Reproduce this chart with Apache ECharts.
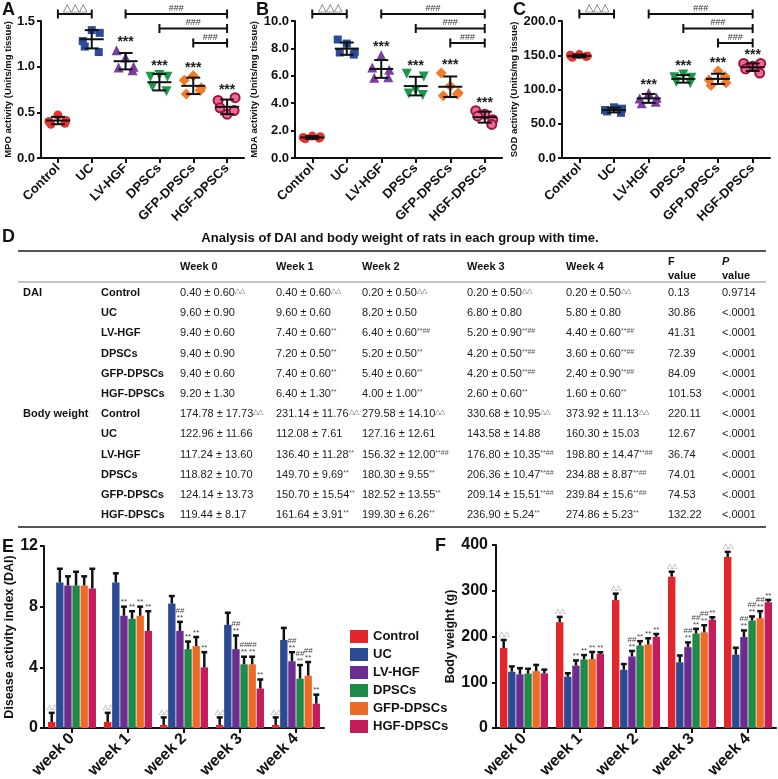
<!DOCTYPE html>
<html lang="en">
<head>
<meta charset="UTF-8">
<title>HGF-DPSCs in colitis rats</title>
<style>
  body { margin: 0; background: #fff; }
  #chart { width: 778px; height: 779px; }
</style>
</head>
<body>
<div id="chart"></div>
<script src="https://cdn.jsdelivr.net/npm/echarts@6/dist/echarts.min.js"></script>
<script>
const groups = ['Control', 'UC', 'LV-HGF', 'DPSCs', 'GFP-DPSCs', 'HGF-DPSCs'];
const weeks = ['week 0', 'week 1', 'week 2', 'week 3', 'week 4'];
const weekHeads = ['Week 0', 'Week 1', 'Week 2', 'Week 3', 'Week 4'];

// A-C, five rats per group
const mpoPts = [
  [0.40, 0.41, 0.47, 0.37, 0.38],
  [1.28, 1.37, 1.40, 1.22, 1.16],
  [1.18, 1.00, 1.10, 0.99, 0.96],
  [0.89, 0.89, 0.91, 0.78, 0.73],
  [0.85, 0.77, 0.90, 0.70, 0.74],
  [0.63, 0.66, 0.48, 0.55, 0.52]
];
const mpoMean = [0.41, 1.30, 1.06, 0.83, 0.79, 0.56];
const mpoSd = [0.04, 0.10, 0.09, 0.09, 0.09, 0.08];

const mdaPts = [
  [1.50, 1.55, 1.60, 1.40, 1.45],
  [8.65, 7.75, 8.35, 7.70, 7.55],
  [6.60, 6.45, 7.50, 5.85, 5.90],
  [6.15, 5.95, 4.95, 4.70, 4.60],
  [6.20, 4.75, 5.25, 4.55, 4.65],
  [3.45, 2.80, 3.20, 3.05, 2.45]
];
const mdaMean = [1.50, 7.98, 6.50, 5.25, 5.20, 2.98];
const mdaSd = [0.10, 0.45, 0.65, 0.68, 0.75, 0.40];

const sodPts = [
  [150, 149, 151, 147, 148],
  [70, 72, 74, 68, 66],
  [87, 88, 95, 80, 82],
  [118, 117, 122, 111, 109],
  [114, 110, 127, 106, 119],
  [138, 138, 134, 130, 124]
];
const sodMean = [149, 70, 87, 115.5, 115.5, 132.5];
const sodSd = [2, 3.5, 6.5, 5.5, 7.5, 5.5];

const dotSig = ['', '', '***', '***', '***', '***'];
// [from group, to group, level, mark]
const brackets = [[0, 1, 0, '△△△'], [2, 5, 0, '###'], [3, 5, 1, '###'], [4, 5, 2, '###']];

// D table, mean and SD per group per week
const daiMean = [
  [0.40, 0.40, 0.20, 0.20, 0.20],
  [9.60, 9.60, 8.20, 6.80, 5.80],
  [9.40, 7.40, 6.40, 5.20, 4.40],
  [9.40, 7.20, 5.20, 4.20, 3.60],
  [9.40, 7.40, 5.40, 4.20, 2.40],
  [9.20, 6.40, 4.00, 2.60, 1.60]
];
const daiSd = [
  ['0.60', '0.60', '0.50', '0.50', '0.50'],
  ['0.90', '0.60', '0.50', '0.80', '0.80'],
  ['0.60', '0.60', '0.60', '0.90', '0.60'],
  ['0.90', '0.50', '0.50', '0.50', '0.60'],
  ['0.60', '0.60', '0.60', '0.50', '0.90'],
  ['1.30', '1.30', '1.00', '0.60', '0.60']
];
const daiSig = [
  ['△△', '△△', '△△', '△△', '△△'],
  ['', '', '', '', ''],
  ['', '**', '**##', '**##', '**##'],
  ['', '**', '**', '**##', '**##'],
  ['', '**', '**', '**##', '**##'],
  ['', '**', '**', '**', '**']
];
const daiF = ['0.13', '30.86', '41.31', '72.39', '84.09', '101.53'];
const daiP = ['0.9714', '<.0001', '<.0001', '<.0001', '<.0001', '<.0001'];

// E bars as drawn (week 4 DPSCs / GFP-DPSCs differ from the table)
const daiBarMean = [
  [0.40, 0.40, 0.20, 0.20, 0.20],
  [9.60, 9.60, 8.20, 6.80, 5.80],
  [9.40, 7.40, 6.40, 5.20, 4.40],
  [9.40, 7.20, 5.20, 4.20, 3.25],
  [9.40, 7.40, 5.40, 4.20, 3.45],
  [9.20, 6.40, 4.00, 2.60, 1.60]
];
const daiBarSd = [
  [0.60, 0.60, 0.50, 0.50, 0.50],
  [0.90, 0.60, 0.50, 0.80, 0.80],
  [0.60, 0.60, 0.60, 0.90, 0.60],
  [0.90, 0.50, 0.50, 0.50, 0.90],
  [0.60, 0.60, 0.60, 0.50, 0.90],
  [1.30, 1.30, 1.00, 0.60, 0.60]
];

const bwMean = [
  [174.78, 231.14, 279.58, 330.68, 373.92],
  [122.96, 112.08, 127.16, 143.58, 160.30],
  [117.24, 136.40, 156.32, 176.80, 198.80],
  [118.82, 149.70, 180.30, 206.36, 234.88],
  [124.14, 150.70, 182.52, 209.14, 239.84],
  [119.44, 161.64, 199.30, 236.90, 274.86]
];
const bwSd = [
  ['17.73', '11.76', '14.10', '10.95', '11.13'],
  ['11.66', '7.61', '12.61', '14.88', '15.03'],
  ['13.60', '11.28', '12.00', '10.35', '14.47'],
  ['10.70', '9.69', '9.55', '10.47', '8.87'],
  ['13.73', '15.54', '13.55', '15.51', '15.6'],
  ['8.17', '3.91', '6.26', '5.24', '5.23']
];
const bwSig = [
  ['△△', '△△', '△△', '△△', '△△'],
  ['', '', '', '', ''],
  ['', '**', '**##', '**##', '**##'],
  ['', '**', '**', '**##', '**##'],
  ['', '**', '**', '**##', '**##'],
  ['', '**', '**', '**', '**']
];
const bwF = ['220.11', '12.67', '36.74', '74.01', '74.53', '132.22'];
const bwP = ['<.0001', '<.0001', '<.0001', '<.0001', '<.0001', '<.0001'];

const FONT = '"Liberation Sans", Arial, sans-serif';
const INK = '#111';
const colors = ['#e3262b', '#2c4a94', '#6b2d8f', '#1f8a48', '#ec6b26', '#c51c5c'];
const dotStyle = [
  { symbol: 'circle', size: 9, rot: 0, color: '#e8322b' },
  { symbol: 'rect', size: 8, rot: 0, color: '#2c4a9a' },
  { symbol: 'triangle', size: 10, rot: 0, color: '#7a3ea0' },
  { symbol: 'triangle', size: 10, rot: 180, color: '#1c9a4c' },
  { symbol: 'diamond', size: 11, rot: 0, color: '#f07b28' },
  { symbol: 'circle', size: 9, rot: 0, color: '#e86c95', border: '#a3123f' }
];
const jitter = [-9, 8, 0, -7, 7];
const catGap = 0.143, barGap = 0.1;

const chart = echarts.init(document.getElementById('chart'));

function line(x1, y1, x2, y2, w) {
  return { type: 'line', shape: { x1, y1, x2, y2 }, style: { stroke: INK, lineWidth: w || 2 } };
}
function txt(text, x, y, o) {
  o = o || {};
  return {
    type: 'text',
    style: {
      text, x, y, fill: o.fill || INK,
      fontSize: o.size || 11, fontWeight: o.weight || 'normal', fontStyle: o.style || 'normal',
      fontFamily: FONT, align: o.align || 'left', textAlign: o.align || 'left',
      verticalAlign: o.va || 'middle', textVerticalAlign: o.va || 'middle',
      lineHeight: o.lh, rich: o.rich
    }
  };
}

// ---------- axes ----------
const axisLine = { show: true, lineStyle: { color: INK, width: 2 } };
const axisTick = { show: true, length: 4, lineStyle: { color: INK, width: 2 } };

function dotX(i) {
  return {
    type: 'category', gridIndex: i, data: groups,
    axisLine, axisTick: { ...axisTick, alignWithLabel: true, length: 5 },
    axisLabel: { rotate: 45, interval: 0, margin: 8, fontSize: 13, fontWeight: 'bold', color: INK, fontFamily: FONT }
  };
}
function dotY(i, max, step, name, gap) {
  return {
    type: 'value', gridIndex: i, min: 0, max, interval: step,
    axisLine, axisTick, splitLine: { show: false },
    axisLabel: { formatter: v => v.toFixed(1), margin: 6, fontSize: 13, fontWeight: 'bold', color: INK, fontFamily: FONT },
    name, nameLocation: 'middle', nameGap: gap,
    nameTextStyle: { fontSize: 9.5, fontWeight: 'bold', color: INK, fontFamily: FONT }
  };
}
function barX(i) {
  return {
    type: 'category', gridIndex: i, data: weeks,
    axisLine, axisTick: { ...axisTick, alignWithLabel: true, length: 5 },
    axisLabel: { rotate: 45, interval: 0, margin: 8, fontSize: 16, fontWeight: 'bold', color: INK, fontFamily: FONT }
  };
}
function barY(i, max, step, name, gap, margin) {
  return {
    type: 'value', gridIndex: i, min: 0, max, interval: step,
    axisLine, axisTick, splitLine: { show: false },
    axisLabel: { margin, fontSize: 16, fontWeight: 'bold', color: INK, fontFamily: FONT },
    name, nameLocation: 'middle', nameGap: gap,
    nameTextStyle: { fontSize: 12.5, fontWeight: 'bold', color: INK, fontFamily: FONT }
  };
}

// ---------- A-C series ----------
function dotSeries(pts, axis) {
  return groups.map((g, i) => ({
    type: 'scatter', name: 'dots ' + g, xAxisIndex: axis, yAxisIndex: axis, z: 3,
    symbol: dotStyle[i].symbol, symbolSize: dotStyle[i].size, symbolRotate: dotStyle[i].rot,
    itemStyle: {
      color: dotStyle[i].color, opacity: 1,
      borderColor: dotStyle[i].border || dotStyle[i].color, borderWidth: dotStyle[i].border ? 2 : 0
    },
    data: pts[i].map((v, j) => ({ value: [i, v], symbolOffset: [jitter[j], 0] }))
  }));
}
function meanSdSeries(mean, sd, pts, axis) {
  return {
    type: 'custom', xAxisIndex: axis, yAxisIndex: axis, z: 10, clip: false, silent: true,
    data: groups.map((g, i) => [i, mean[i], sd[i]]),
    renderItem(params, api) {
      const i = api.value(0), m = api.value(1), s = api.value(2);
      const [x, ym] = api.coord([i, m]);
      const yt = api.coord([i, m + s])[1], yb = api.coord([i, m - s])[1];
      const ch = [
        line(x - 12, ym, x + 12, ym), line(x, yt, x, yb),
        line(x - 7, yt, x + 7, yt), line(x - 7, yb, x + 7, yb)
      ];
      if (dotSig[i]) {
        const top = Math.min(yt, api.coord([i, Math.max(...pts[i])])[1]);
        ch.push(txt(dotSig[i], x, top - 8, { size: 14, weight: 'bold', align: 'center', fill: '#222' }));
      }
      return { type: 'group', children: ch };
    }
  };
}
function bracketSeries(axis) {
  return {
    type: 'custom', xAxisIndex: axis, yAxisIndex: axis, z: 10, clip: false, silent: true,
    data: brackets.map(b => [b[0], 0]),
    renderItem(params, api) {
      const b = brackets[params.dataIndex];
      const x1 = api.coord([b[0], 0])[0], x2 = api.coord([b[1], 0])[0];
      const y = params.coordSys.y - 7 + b[2] * 14.5;
      const tri = b[3] === '△△△';
      return {
        type: 'group', children: [
          line(x1, y, x2, y), line(x1, y - 4.5, x1, y + 4.5), line(x2, y - 4.5, x2, y + 4.5),
          txt(b[3], (x1 + x2) / 2, y - 1, { size: tri ? 11 : 9, align: 'center', va: 'bottom', fill: tri ? '#555' : '#333' })
        ]
      };
    }
  };
}

// ---------- E-F series ----------
function barSeries(mean, axis) {
  return groups.map((g, gi) => ({
    type: 'bar', name: g, xAxisIndex: axis, yAxisIndex: axis, z: 2,
    barCategoryGap: (catGap * 100) + '%', barGap: (barGap * 100) + '%',
    itemStyle: { color: colors[gi] },
    data: mean[gi]
  }));
}
function errorSeries(mean, sd, sig, axis) {
  const data = [];
  mean.forEach((row, gi) => row.forEach((v, k) => data.push([k, v, gi])));
  return {
    type: 'custom', xAxisIndex: axis, yAxisIndex: axis, z: 6, clip: false, silent: true,
    data,
    renderItem(params, api) {
      const k = api.value(0), v = api.value(1), gi = api.value(2);
      const s = Number(sd[gi][k]);
      const band = api.size([1, 0])[0];
      const groupW = band * (1 - catGap);
      const bw = groupW / (6 + 5 * barGap);
      const x = api.coord([k, 0])[0] - groupW / 2 + gi * bw * (1 + barGap) + bw / 2;
      const y0 = api.coord([k, v])[1], y1 = api.coord([k, v + s])[1];
      const ch = [line(x, y0, x, y1, 2.5), line(x - bw * 0.4, y1, x + bw * 0.4, y1, 2.5)];
      const mark = sig[gi][k];
      if (mark === '△△') {
        ch.push(txt('△△', x, y1 - 2, { size: 7, align: 'center', va: 'bottom', fill: '#888' }));
      } else if (mark) {
        const t = mark.indexOf('##') >= 0 ? '##\n**' : '**';
        ch.push(txt(t, x, y1 - 1, { size: 8, align: 'center', va: 'bottom', fill: '#444', lh: 7 }));
      }
      return { type: 'group', children: ch };
    }
  };
}

// ---------- D table ----------
const tableRows = [];
[['DAI', daiMean, daiSd, daiSig, daiF, daiP], ['Body weight', bwMean, bwSd, bwSig, bwF, bwP]]
  .forEach(([sec, m, s, sig, f, p]) => {
    groups.forEach((g, gi) => tableRows.push({
      sec: gi === 0 ? sec : '', grp: g,
      cells: m[gi].map((v, k) => v.toFixed(2) + ' ± ' + s[gi][k] + (sig[gi][k] ? '{s|' + sig[gi][k] + '}' : '')),
      f: f[gi], p: p[gi]
    }));
  });
const colX = [23, 101, 180, 276, 362, 467, 566, 668, 722];
const supRich = { s: { fontSize: 7, verticalAlign: 'top', fill: '#555', fontFamily: FONT } };

const tableSeries = {
  type: 'custom', xAxisIndex: 5, yAxisIndex: 5, clip: false, silent: true,
  data: tableRows.map((r, i) => [0, i]),
  renderItem(params, api) {
    const r = tableRows[params.dataIndex];
    const y = api.coord([0, params.dataIndex])[1];
    const x0 = params.coordSys.x;
    const ch = [
      txt(r.sec, x0 + colX[0], y, { weight: 'bold' }),
      txt(r.grp, x0 + colX[1], y, { weight: 'bold' })
    ];
    r.cells.forEach((c, k) => ch.push(txt(c, x0 + colX[2 + k], y, { fill: '#1a1a1a', rich: supRich })));
    ch.push(txt(r.f, x0 + colX[7], y, { fill: '#1a1a1a' }));
    ch.push(txt(r.p, x0 + colX[8], y, { fill: '#1a1a1a' }));
    return { type: 'group', children: ch };
  }
};

// ---------- static layout: letters, title, header, rules ----------
const g = [];
function gText(text, x, y, o) { const e = txt(text, x, y, o); e.silent = true; g.push(e); }
function gLine(x1, y1, x2, y2, w, c) {
  g.push({ type: 'line', silent: true, shape: { x1, y1, x2, y2 }, style: { stroke: c, lineWidth: w } });
}
[['A', 2, 10], ['B', 256, 10], ['C', 513, 10], ['D', 2, 237], ['E', 2, 547], ['F', 435, 546]]
  .forEach(([t, x, y]) => gText(t, x, y, { size: 18, weight: 'bold' }));
gText('Analysis of DAI and body weight of rats in each group with time.', 400, 238, { size: 13, weight: 'bold', align: 'center' });
gLine(18, 251, 766, 251, 2, '#555');
gLine(18, 282, 766, 282, 1, '#888');
gLine(18, 527, 766, 527, 2, '#555');
weekHeads.forEach((h, k) => gText(h, colX[2 + k], 267, { weight: 'bold' }));
gText('F', colX[7], 262, { weight: 'bold' });
gText('value', colX[7], 276, { weight: 'bold' });
gText('P', colX[8], 262, { weight: 'bold', style: 'italic' });
gText('value', colX[8], 276, { weight: 'bold' });

const option = {
  animation: false,
  backgroundColor: '#fff',
  textStyle: { fontFamily: FONT },
  grid: [
    { left: 41, top: 21, width: 203, height: 137, outerBoundsMode: 'none' },
    { left: 295, top: 21, width: 207, height: 137, outerBoundsMode: 'none' },
    { left: 562, top: 21, width: 208, height: 137, outerBoundsMode: 'none' },
    { left: 44, top: 546, width: 280, height: 182, outerBoundsMode: 'none' },
    { left: 496, top: 545, width: 280, height: 183, outerBoundsMode: 'none' },
    { left: 0, top: 282.9, width: 778, height: 242.4, outerBoundsMode: 'none' }
  ],
  xAxis: [
    dotX(0), dotX(1), dotX(2), barX(3), barX(4),
    { type: 'value', gridIndex: 5, min: 0, max: 1, show: false }
  ],
  yAxis: [
    dotY(0, 1.5, 0.5, 'MPO activity (Units/mg tissue)', 22),
    dotY(1, 10, 2, 'MDA activity (Units/mg tissue)', 22),
    dotY(2, 200, 50, 'SOD activity (Units/mg tissue)', 26),
    barY(3, 12, 4, 'Disease activity index (DAI)', 20, 6),
    barY(4, 400, 100, 'Body weight (g)', 37, 8),
    { type: 'category', gridIndex: 5, data: tableRows.map((r, i) => i), inverse: true, show: false }
  ],
  legend: {
    orient: 'vertical', left: 345, top: 625, itemWidth: 18, itemHeight: 13, itemGap: 5,
    icon: 'rect', data: groups, selectedMode: false,
    textStyle: { fontSize: 13, fontWeight: 'bold', color: INK, fontFamily: FONT }
  },
  graphic: g,
  series: [
    ...dotSeries(mpoPts, 0), meanSdSeries(mpoMean, mpoSd, mpoPts, 0), bracketSeries(0),
    ...dotSeries(mdaPts, 1), meanSdSeries(mdaMean, mdaSd, mdaPts, 1), bracketSeries(1),
    ...dotSeries(sodPts, 2), meanSdSeries(sodMean, sodSd, sodPts, 2), bracketSeries(2),
    ...barSeries(daiBarMean, 3), errorSeries(daiBarMean, daiBarSd, daiSig, 3),
    ...barSeries(bwMean, 4), errorSeries(bwMean, bwSd, bwSig, 4),
    tableSeries
  ]
};
chart.setOption(option);
</script>
</body>
</html>
